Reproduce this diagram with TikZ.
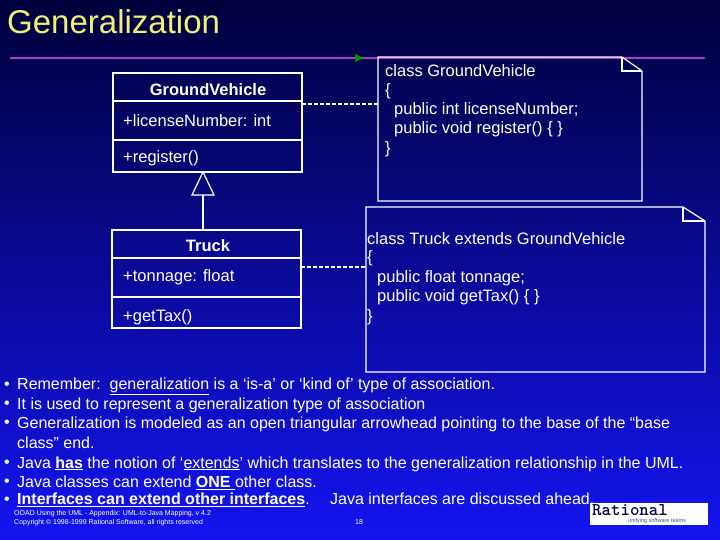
\documentclass[tikz,border=0pt]{standalone}
\usepackage{fontspec}
\setmainfont{Liberation Sans}
\usetikzlibrary{arrows.meta}
\definecolor{navy}{RGB}{0,0,60}
\definecolor{brightblue}{RGB}{20,20,240}
\definecolor{titleyellow}{RGB}{240,240,120}
\definecolor{rulepurple}{RGB}{170,60,200}
\tikzset{
  umlbox/.style={draw=white,line width=1.2pt},
  txt/.style={anchor=west,inner sep=0pt,text=white,font=\fontsize{16.5}{19}\selectfont},
  bullet/.style={anchor=west,inner sep=0pt,text=white,font=\fontsize{16}{19}\selectfont},
  tiny/.style={anchor=west,inner sep=0pt,text=white,font=\fontsize{7}{8}\selectfont}
}
\begin{document}
\begin{tikzpicture}[x=1pt,y=1pt,yscale=-1]
\useasboundingbox (0,0) rectangle (720,540);
% background
\shade[top color=navy,bottom color=brightblue] (0,0) rectangle (720,540);
% title and rule
\node[anchor=west,inner sep=0pt,text=titleyellow,font=\fontsize{33}{36}\selectfont] (title) at (7,22) {Generalization};
\draw[rulepurple,line width=1.2pt] (10,58) -- (705,58);
\fill[green!60!black] (355,54) -- (363,58) -- (355,62) -- cycle;
% class GroundVehicle
\draw[umlbox] (113,73) rectangle (302,172);
\draw[umlbox] (113,101) -- (302,101) (113,140) -- (302,140);
\node[text=white,font=\bfseries\fontsize{16.5}{19}\selectfont] (gvname) at (208,90) {GroundVehicle};
\node[txt] (gvattr) at (123,121) {+licenseNumber: int};
\node[txt] (gvop) at (123,158) {+register()};
% class Truck
\draw[umlbox] (112,230) rectangle (301,328);
\draw[umlbox] (112,258) -- (301,258) (112,297) -- (301,297);
\node[text=white,font=\bfseries\fontsize{16.5}{19}\selectfont] (trname) at (208,246) {Truck};
\node[txt] (trattr) at (123,277) {+tonnage: float};
\node[txt] (trop) at (123,317) {+getTax()};
% generalization
\coordinate (tip) at (203,172);
\draw[white,line width=1.2pt] (203,230) -- (203,195);
\draw[white,line width=1.2pt] (tip) -- (192,195) -- (214,195) -- cycle;
% notes
\draw[umlbox] (378,57) -- (622,57) -- (642,71) -- (642,201) -- (378,201) -- cycle;
\draw[umlbox] (622,57) -- (622,71) -- (642,71);
\node[txt] (n1a) at (385,71) {class GroundVehicle};
\node[txt] (n1b) at (385,91) {\{};
\node[txt] (n1c) at (394,110) {public int licenseNumber;};
\node[txt] (n1d) at (394,129) {public void register() \{ \}};
\node[txt] (n1e) at (385,149) {\}};
\draw[umlbox] (366,207) -- (683,207) -- (705,221) -- (705,372) -- (366,372) -- cycle;
\draw[umlbox] (683,207) -- (683,221) -- (705,221);
\node[txt] (n2a) at (367,239) {class Truck extends GroundVehicle};
\node[txt] (n2b) at (367,258) {\{};
\node[txt] (n2c) at (377,278) {public float tonnage;};
\node[txt] (n2d) at (377,297) {public void getTax() \{ \}};
\node[txt] (n2e) at (367,317) {\}};
\draw[white,dash pattern=on 4pt off 2pt,line width=1.2pt] (302,104) -- (378,104);
\draw[white,dash pattern=on 4pt off 2pt,line width=1.2pt] (301,267) -- (366,267);
% bullets
\foreach \y in {386,405,424,464,483,501}
  \node[bullet] at (4,\y) {\textbullet};
\node[bullet] (b1) at (17,386) {Remember:\ \ \underline{generalization} is a ‘is-a’ or ‘kind of’ type of association.};
\node[bullet] (b2) at (17,405) {It is used to represent a generalization type of association};
\node[bullet] (b3) at (17,424) {Generalization is modeled as an open triangular arrowhead pointing to the base of the “base};
\node[bullet] (b3b) at (17,443) {class” end.};
\node[bullet] (b4) at (17,464) {Java \underline{\textbf{has}} the notion of ‘\underline{extends}’ which translates to the generalization relationship in the UML.};
\node[bullet] (b5) at (17,483) {Java classes can extend \underline{\textbf{ONE }}other class.};
\node[bullet] (b6) at (17,500) {\underline{\textbf{Interfaces can extend other interfaces}}.\quad\ Java interfaces are discussed ahead.};
% footer
\node[tiny] (f1) at (14,514) {OOAD Using the UML - Appendix: UML-to-Java Mapping, v 4.2};
\node[tiny] (f2) at (14,523) {Copyright \copyright{} 1998-1999 Rational Software, all rights reserved};
\node[tiny] (pg) at (355,522) {18};
\fill[white] (590,503) rectangle (708,525);
\node[anchor=west,inner sep=0pt,font=\ttfamily\bfseries\fontsize{18}{18}\selectfont,text=navy] (logo) at (592,510) {Rational};
\node[anchor=west,inner sep=0pt,font=\fontsize{5.5}{6}\selectfont,text=navy!70] (slogan) at (628,521.5) {unifying software teams};
\end{tikzpicture}
\end{document}
